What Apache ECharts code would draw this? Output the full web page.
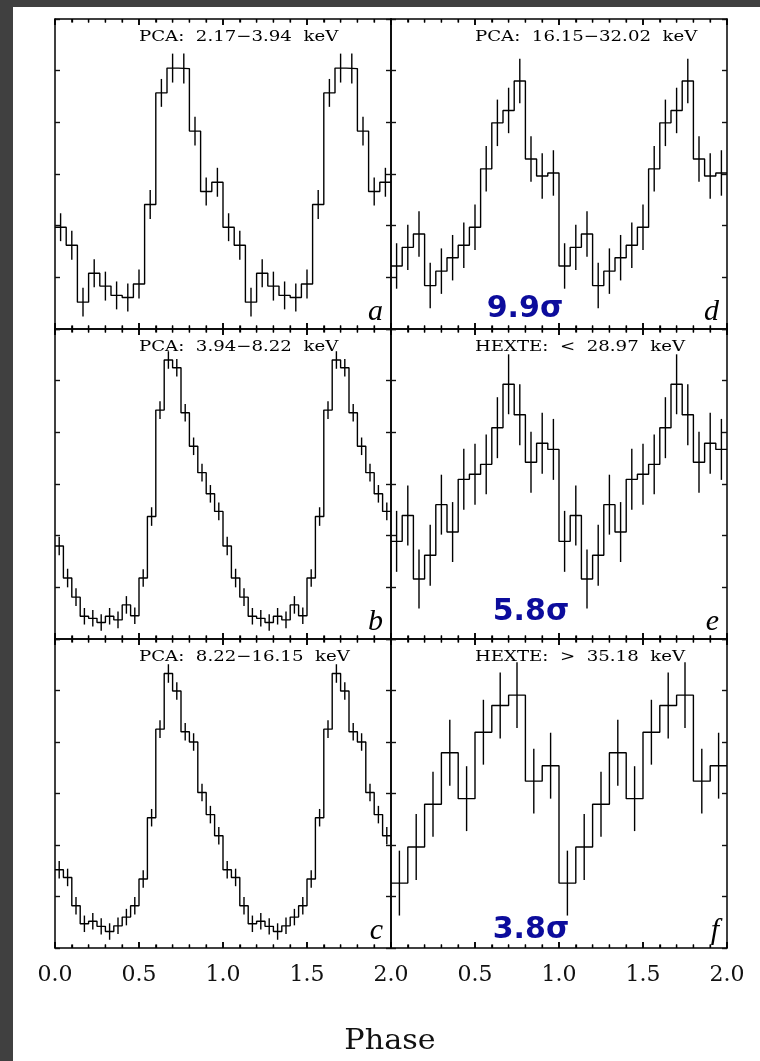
<!DOCTYPE html>
<html>
<head>
<meta charset="utf-8">
<script src="https://cdn.jsdelivr.net/npm/echarts@6/dist/echarts.min.js"></script>
<style>
html,body{margin:0;padding:0;background:#fff;}
#chart{width:760px;height:1061px;}
</style>
</head>
<body>
<div id="chart"></div>
<script>
// ---- data; one pulse period per panel, shown twice ----
const phaseTickLabels = ['0.0', '0.5', '1.0', '1.5', '2.0'];
const panelTitles = ['PCA:  2.17\u22123.94  keV', 'PCA:  3.94\u22128.22  keV', 'PCA:  8.22\u221216.15  keV',
                     'PCA:  16.15\u221232.02  keV', 'HEXTE:  <  28.97  keV', 'HEXTE:  >  35.18  keV'];
const panelLetters = ['a', 'b', 'c', 'd', 'e', 'f'];
const sigmaLabels = ['9.9\u03c3', '5.8\u03c3', '3.8\u03c3'];

const rateA = [1.97, 1.62, 0.52, 1.08, 0.83, 0.65, 0.61, 0.87, 2.41, 4.57, 5.05, 5.04, 3.83, 2.66, 2.84];
const errA  = [0.27, 0.28, 0.28, 0.27, 0.28, 0.27, 0.27, 0.28, 0.28, 0.27, 0.28, 0.29, 0.28, 0.27, 0.28];
const rateB = [1.80, 1.18, 0.81, 0.44, 0.40, 0.32, 0.44, 0.37, 0.66, 0.45, 1.18, 2.37, 4.43, 5.40, 5.25, 4.38, 3.73, 3.22, 2.81, 2.47];
const errB  = [0.18, 0.18, 0.17, 0.16, 0.16, 0.16, 0.16, 0.16, 0.17, 0.16, 0.17, 0.18, 0.17, 0.17, 0.17, 0.17, 0.17, 0.17, 0.17, 0.17];
const rateC = [1.52, 1.37, 0.82, 0.47, 0.52, 0.42, 0.32, 0.43, 0.60, 0.82, 1.34, 2.53, 4.25, 5.33, 4.99, 4.20, 4.00, 3.02, 2.59, 2.18];
const errC  = [0.17, 0.17, 0.17, 0.16, 0.16, 0.16, 0.16, 0.16, 0.16, 0.17, 0.17, 0.17, 0.17, 0.18, 0.17, 0.17, 0.17, 0.17, 0.17, 0.17];
const rateD = [1.22, 1.58, 1.84, 0.84, 1.12, 1.38, 1.62, 1.97, 3.10, 3.99, 4.23, 4.80, 3.29, 2.96, 3.02];
const errD  = [0.44, 0.44, 0.44, 0.44, 0.44, 0.44, 0.44, 0.44, 0.44, 0.45, 0.44, 0.43, 0.44, 0.44, 0.44];
const rateE = [1.89, 2.39, 1.16, 1.62, 2.60, 2.07, 3.09, 3.19, 3.38, 4.09, 4.93, 4.34, 3.42, 3.79, 3.67];
const errE  = [0.59, 0.58, 0.57, 0.59, 0.58, 0.58, 0.59, 0.59, 0.58, 0.59, 0.58, 0.59, 0.59, 0.59, 0.59];
const rateF = [1.26, 1.96, 2.79, 3.79, 2.90, 4.19, 4.71, 4.91, 3.24, 3.54];
const errF  = [0.63, 0.64, 0.63, 0.64, 0.63, 0.63, 0.64, 0.64, 0.63, 0.64];

const rates = [rateA, rateB, rateC, rateD, rateE, rateF];
const errs  = [errA, errB, errC, errD, errE, errF];

// ---- layout ----
const colLeft = [55, 391];
const colWidth = 336;
const rowTop = [19, 329, 639];
const rowHeight = [310, 310, 309];
const X_MAX = 2, Y_MAX = 6;

const grids = [], xAxes = [], yAxes = [], series = [], graphics = [];

function tickFmt(hideZero) {
  return function (v) {
    if (hideZero && Math.abs(v) < 1e-9) return '';
    return phaseTickLabels[Math.round(v / 0.5)];
  };
}
function makeX(p, pos, showLabel, hideZero) {
  return {
    type: 'value', gridIndex: p, min: 0, max: X_MAX, interval: 0.5, position: pos,
    axisLine: {show: true, onZero: false, lineStyle: {color: '#000', width: 1.5}},
    axisTick: {show: true, inside: true, length: 6, lineStyle: {color: '#000', width: 1.5}},
    minorTick: {show: true, splitNumber: 5, length: 3.5, lineStyle: {color: '#000', width: 1.3}},
    splitLine: {show: false},
    axisLabel: {show: showLabel, margin: 16, fontFamily: 'DejaVu Serif', fontSize: 22, color: '#111',
                formatter: tickFmt(hideZero)}
  };
}
function makeY(p, pos) {
  return {
    type: 'value', gridIndex: p, min: 0, max: Y_MAX, interval: 1, position: pos,
    axisLine: {show: true, onZero: false, lineStyle: {color: '#000', width: 1.5}},
    axisTick: {show: true, inside: true, length: 5, lineStyle: {color: '#111', width: 1.4}},
    axisLabel: {show: false}, splitLine: {show: false}
  };
}

// phase tick positions along each panel's top and bottom edge (every 0.1, major every 0.5)
const phaseTicks = [];
for (let k = 0; k <= 20; k++) phaseTicks.push([k / 10, k % 5 === 0 ? 1 : 0]);

for (let p = 0; p < 6; p++) {
  const col = p < 3 ? 0 : 1;
  const row = p % 3;
  grids.push({left: colLeft[col], top: rowTop[row], width: colWidth, height: rowHeight[row]});
  xAxes.push(makeX(p, 'bottom', row === 2, col === 1));
  xAxes.push(makeX(p, 'top', false, false));
  yAxes.push(makeY(p, 'left'));
  yAxes.push(makeY(p, 'right'));

  const r = rates[p], e = errs[p], n = r.length;
  const vals = r.concat(r), ers = e.concat(e);
  const edges = [];
  for (let i = 0; i < vals.length; i++) edges.push([i / n, vals[i]]);
  edges.push([X_MAX, vals[vals.length - 1]]);
  const bars = vals.map((v, i) => [(i + 0.5) / n, v, ers[i]]);

  series.push({
    type: 'custom', xAxisIndex: 2 * p, yAxisIndex: 2 * p, data: phaseTicks,
    encode: {x: 0}, silent: true, clip: false, z: 3,
    renderItem: function (params, api) {
      const major = api.value(1) > 0.5;
      const len = major ? 6 : 3.5;
      const b = api.coord([api.value(0), 0]), t = api.coord([api.value(0), Y_MAX]);
      const st = {stroke: '#000', lineWidth: major ? 1.5 : 1.3};
      return {type: 'group', children: [
        {type: 'line', shape: {x1: b[0], y1: b[1], x2: b[0], y2: b[1] - len}, style: st},
        {type: 'line', shape: {x1: t[0], y1: t[1], x2: t[0], y2: t[1] + len}, style: st}
      ]};
    }
  });
  series.push({
    type: 'line', xAxisIndex: 2 * p, yAxisIndex: 2 * p, data: edges, step: 'end',
    symbol: 'none', silent: true, lineStyle: {color: '#000', width: 1.4}
  });
  series.push({
    type: 'custom', xAxisIndex: 2 * p, yAxisIndex: 2 * p, data: bars,
    encode: {x: 0, y: 1}, silent: true,
    renderItem: function (params, api) {
      const x = api.value(0), y = api.value(1), er = api.value(2);
      const a = api.coord([x, y - er]), b = api.coord([x, y + er]);
      return {type: 'line', shape: {x1: a[0], y1: a[1], x2: b[0], y2: b[1]},
              style: {stroke: '#000', lineWidth: 1.4}};
    }
  });

  graphics.push({
    type: 'text', x: colLeft[col] + colWidth * 0.25, y: rowTop[row] + 18, scaleX: 1.21, scaleY: 1,
    style: {text: panelTitles[p], x: 0, y: 0, align: 'left', verticalAlign: 'middle',
            font: '15px "DejaVu Serif"', fill: '#000'}
  });
  graphics.push({
    type: 'text', x: colLeft[col] + colWidth - 8, y: rowTop[row] + rowHeight[row] - 17,
    style: {text: panelLetters[p], align: 'right', verticalAlign: 'middle',
            font: 'italic 30px "Liberation Serif"', fill: '#000'}
  });
}

const sigmaPos = [[525, 309], [531, 612], [531, 930]];
for (let i = 0; i < 3; i++) {
  graphics.push({
    type: 'text', x: sigmaPos[i][0], y: sigmaPos[i][1],
    style: {text: sigmaLabels[i], align: 'center', verticalAlign: 'middle',
            font: 'bold 30px "DejaVu Sans"', fill: '#0c0c9c'}
  });
}
graphics.push({
  type: 'text', x: 390, y: 1042, scaleX: 1.08,
  style: {text: 'Phase', align: 'center', verticalAlign: 'middle', font: '28px "DejaVu Serif"', fill: '#111'}
});
graphics.push({type: 'rect', shape: {x: 0, y: 0, width: 13, height: 1061}, style: {fill: '#404040'}});
graphics.push({type: 'rect', shape: {x: 0, y: 0, width: 760, height: 7}, style: {fill: '#404040'}});

const chart = echarts.init(document.getElementById('chart'));
chart.setOption({
  backgroundColor: '#fff',
  animation: false,
  grid: grids, xAxis: xAxes, yAxis: yAxes, series: series, graphic: graphics
});
</script>
</body>
</html>
